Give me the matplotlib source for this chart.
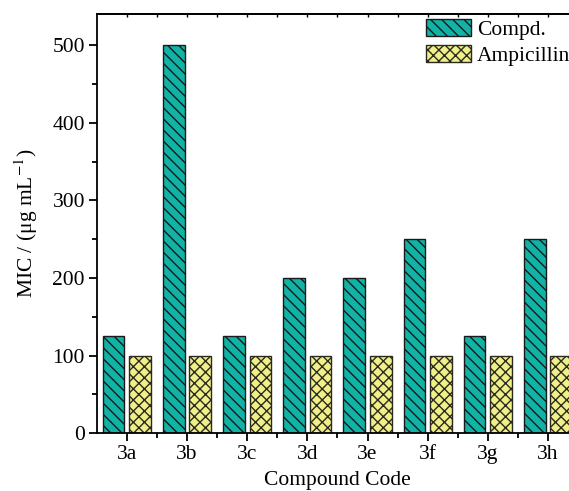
import numpy as np
import matplotlib
matplotlib.use('Agg')
import matplotlib.pyplot as plt
from matplotlib.ticker import MultipleLocator, FixedLocator

plt.rcParams['font.family'] = ['Liberation Serif', 'DejaVu Serif']
plt.rcParams['mathtext.fontset'] = 'stix'
plt.rcParams['hatch.linewidth'] = 1.0

compounds = ['3a', '3b', '3c', '3d', '3e', '3f', '3g', '3h']
mic_compd = [125, 500, 125, 200, 200, 250, 125, 250]
mic_ampicillin = [100, 100, 100, 100, 100, 100, 100, 100]

x = np.arange(1, len(compounds) + 1)
w = 0.36
off = 0.22
fs = 15.5

fig = plt.figure(figsize=(5.69, 4.91), dpi=100)
ax = fig.add_axes([0.170, 0.118, 0.846, 0.853])

ax.bar(x - off, mic_compd, w, color='#10B3A6', edgecolor='#1a1a1a',
       linewidth=1.0, hatch='\\\\\\', label='Compd.')
ax.bar(x + off, mic_ampicillin, w, color='#F0EF88', edgecolor='#2a2a20',
       linewidth=1.0, hatch='xxx', label='Ampicillin')

ax.set_xlim(0.5, 8.5)
ax.set_ylim(0, 540)
ax.set_xticks(x)
ax.set_xticklabels(compounds)
ax.xaxis.set_minor_locator(FixedLocator(x[:-1] + 0.5))
ax.yaxis.set_major_locator(MultipleLocator(100))
ax.yaxis.set_minor_locator(MultipleLocator(50))

for s in ax.spines.values():
    s.set_linewidth(1.3)
ax.tick_params(which='major', direction='out', length=5.5, width=1.3,
               labelsize=fs, pad=3)
ax.tick_params(which='minor', direction='out', length=3.5, width=1.3)

# short inward ticks along the top edge
top = ax.secondary_xaxis('top')
top.set_xticks(np.arange(1, 8.6, 0.5))
top.set_xticklabels([])
top.tick_params(direction='in', length=2.5, width=1.0)
top.spines['top'].set_linewidth(1.3)

ax.set_xlabel('Compound Code', fontsize=fs, labelpad=5)
ax.set_ylabel('MIC / (μg mL$^{-1}$)', fontsize=fs, labelpad=9)

fig.legend(loc='upper left', bbox_to_anchor=(0.748, 0.962), frameon=False,
           fontsize=fs, handlelength=2.1, handleheight=0.84,
           handletextpad=0.3, labelspacing=0.25, borderpad=0, borderaxespad=0)

fig.savefig('out.png', dpi=100)
